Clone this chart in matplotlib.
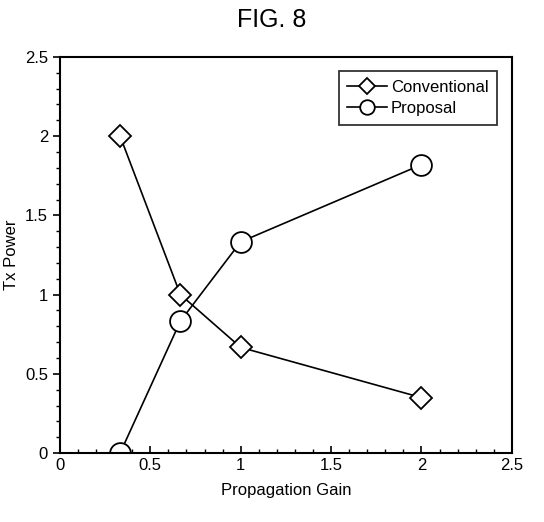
import matplotlib
matplotlib.use("Agg")
import matplotlib.pyplot as plt
from matplotlib.ticker import MultipleLocator

plt.rcParams['font.family'] = ['Liberation Sans', 'DejaVu Sans']

gain = [1/3, 2/3, 1, 2]
conventional = [2.0, 1.0, 0.667, 0.35]
proposal = [0.0, 0.833, 1.333, 1.82]
ticks = [0, 0.5, 1, 1.5, 2, 2.5]
tick_labels = ['0', '0.5', '1', '1.5', '2', '2.5']

fig = plt.figure(figsize=(5.44, 5.22), dpi=100)
ax = fig.add_axes([0.110, 0.132, 0.831, 0.759])

ax.plot(gain, conventional, '-', color='black', lw=1.2, marker='D', ms=11,
        mfc='white', mec='black', mew=1.3, label='Conventional')
ax.plot(gain, proposal, '-', color='black', lw=1.2, marker='o', ms=15,
        mfc='white', mec='black', mew=1.3, label='Proposal')

ax.set_xlim(0, 2.5)
ax.set_ylim(0, 2.5)
ax.set_xticks(ticks, tick_labels)
ax.set_yticks(ticks, tick_labels)
ax.xaxis.set_minor_locator(MultipleLocator(0.1))
ax.yaxis.set_minor_locator(MultipleLocator(0.1))
ax.tick_params(axis='x', which='both', direction='in', labelsize=12)
ax.tick_params(axis='y', which='both', direction='out', labelsize=12)
ax.tick_params(which='major', length=5, width=1.2)
ax.tick_params(which='minor', length=3, width=1.0)
for s in ax.spines.values():
    s.set_linewidth(1.5)

ax.set_xlabel('Propagation Gain', fontsize=12, labelpad=7)
ax.set_ylabel('Tx Power', fontsize=12, labelpad=4)
fig.suptitle('FIG. 8', fontsize=18, y=0.985)

leg = ax.legend(loc='upper right', fontsize=12, frameon=True, fancybox=False,
                edgecolor='black', borderpad=0.5, handlelength=2.4,
                handletextpad=0.2, labelspacing=0.4, markerscale=0.7,
                bbox_to_anchor=(0.985, 0.985))
leg.get_frame().set_linewidth(1.3)

fig.savefig('out.png', dpi=100)
